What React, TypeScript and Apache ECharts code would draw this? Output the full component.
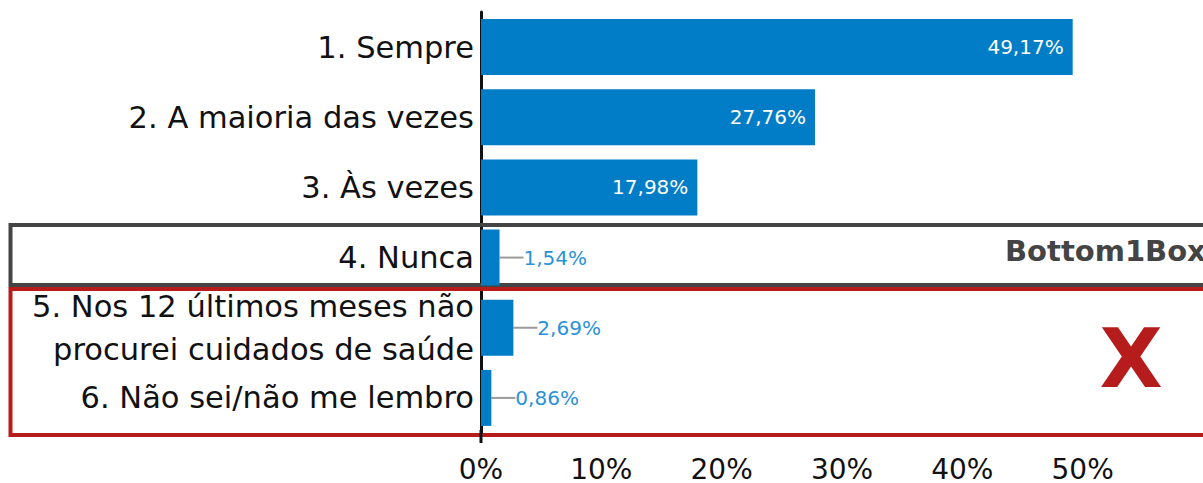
import React, { useEffect, useRef } from "react";
import * as echarts from "echarts";

const categories = [
  "1. Sempre",
  "2. A maioria das vezes",
  "3. Às vezes",
  "4. Nunca",
  "5. Nos 12 últimos meses não\nprocurei cuidados de saúde",
  "6. Não sei/não me lembro",
];
const values = [49.17, 27.76, 17.98, 1.54, 2.69, 0.86];
const xTicks = [0, 10, 20, 30, 40, 50, 60];
const boxLabel = "Bottom1Box";
const crossLabel = "X";

const FONT = "'DejaVu Sans', 'Noto Sans', sans-serif";
const BAR = "#007DC6";
const OUT_LABEL = "#2A92D8";

const fmt = (v: number) => v.toFixed(2).replace(".", ",") + "%";

export default function App() {
  const ref = useRef<HTMLDivElement>(null);
  useEffect(() => {
    if (!ref.current) return;
    const chart = echarts.init(ref.current, undefined, { renderer: "svg" });
    const data = values.map((v) => {
      const small = v < 5;
      return small
        ? {
            value: v,
            label: { position: "right", color: OUT_LABEL, distance: 0 },
            labelLine: { show: true, lineStyle: { color: "#9a9a9a", width: 2 } },
          }
        : { value: v };
    });
    chart.setOption({
      animation: false,
      textStyle: { fontFamily: FONT },
      grid: { left: 481, right: 0, top: 12, bottom: 49, containLabel: false },
      xAxis: {
        type: "value",
        min: xTicks[0],
        max: xTicks[xTicks.length - 1],
        interval: 10,
        axisLine: { show: false },
        axisTick: { show: false },
        splitLine: { show: false },
        axisLabel: {
          showMaxLabel: false,
          formatter: (v: number) => `${v}%`,
          fontSize: 28,
          lineHeight: 26,
          color: "#111",
          margin: 23,
          fontFamily: FONT,
        },
      },
      yAxis: {
        type: "category",
        data: categories,
        inverse: true,
        axisTick: { show: false },
        axisLine: { show: true, lineStyle: { color: "#111", width: 3 } },
        axisLabel: {
          fontSize: 30.5,
          lineHeight: 43,
          color: "#111",
          margin: 7,
          fontFamily: FONT,
        },
      },
      series: [
        {
          type: "bar",
          data,
          barWidth: 56,
          itemStyle: { color: BAR },
          z: 3,
          label: {
            show: true,
            position: "insideRight",
            distance: 9,
            color: "#fff",
            fontSize: 20,
            fontFamily: FONT,
            formatter: (p: any) => fmt(p.value),
          },
          labelLayout: (p: any) => (values[p.dataIndex] < 5 ? { dx: 24 } : {}),
        },
      ],
      graphic: [
        {
          type: "rect",
          z: 1,
          shape: { x: 10.5, y: 225, width: 1300, height: 60 },
          style: { fill: "none", stroke: "#444", lineWidth: 4 },
        },
        {
          type: "rect",
          z: 1,
          shape: { x: 10.5, y: 289, width: 1300, height: 146 },
          style: { fill: "none", stroke: "#B71C1C", lineWidth: 4 },
        },
        {
          type: "line",
          z: 4,
          shape: { x1: 481, y1: 430, x2: 481, y2: 443 },
          style: { stroke: "#111", lineWidth: 3 },
        },
        {
          type: "text",
          z: 5,
          x: 1005,
          y: 251,
          style: {
            text: boxLabel,
            fill: "#444",
            font: `bold 29px ${FONT}`,
            textAlign: "left",
            textVerticalAlign: "middle",
          },
        },
        {
          type: "text",
          z: 5,
          x: 1131,
          y: 358,
          style: {
            text: crossLabel,
            fill: "#B71C1C",
            font: `bold 82px ${FONT}`,
            textAlign: "center",
            textVerticalAlign: "middle",
          },
        },
      ],
    });
    return () => chart.dispose();
  }, []);
  return (
    <div
      ref={ref}
      style={{ position: "fixed", left: 0, top: 0, width: 1203, height: 483, background: "#fff" }}
    />
  );
}
